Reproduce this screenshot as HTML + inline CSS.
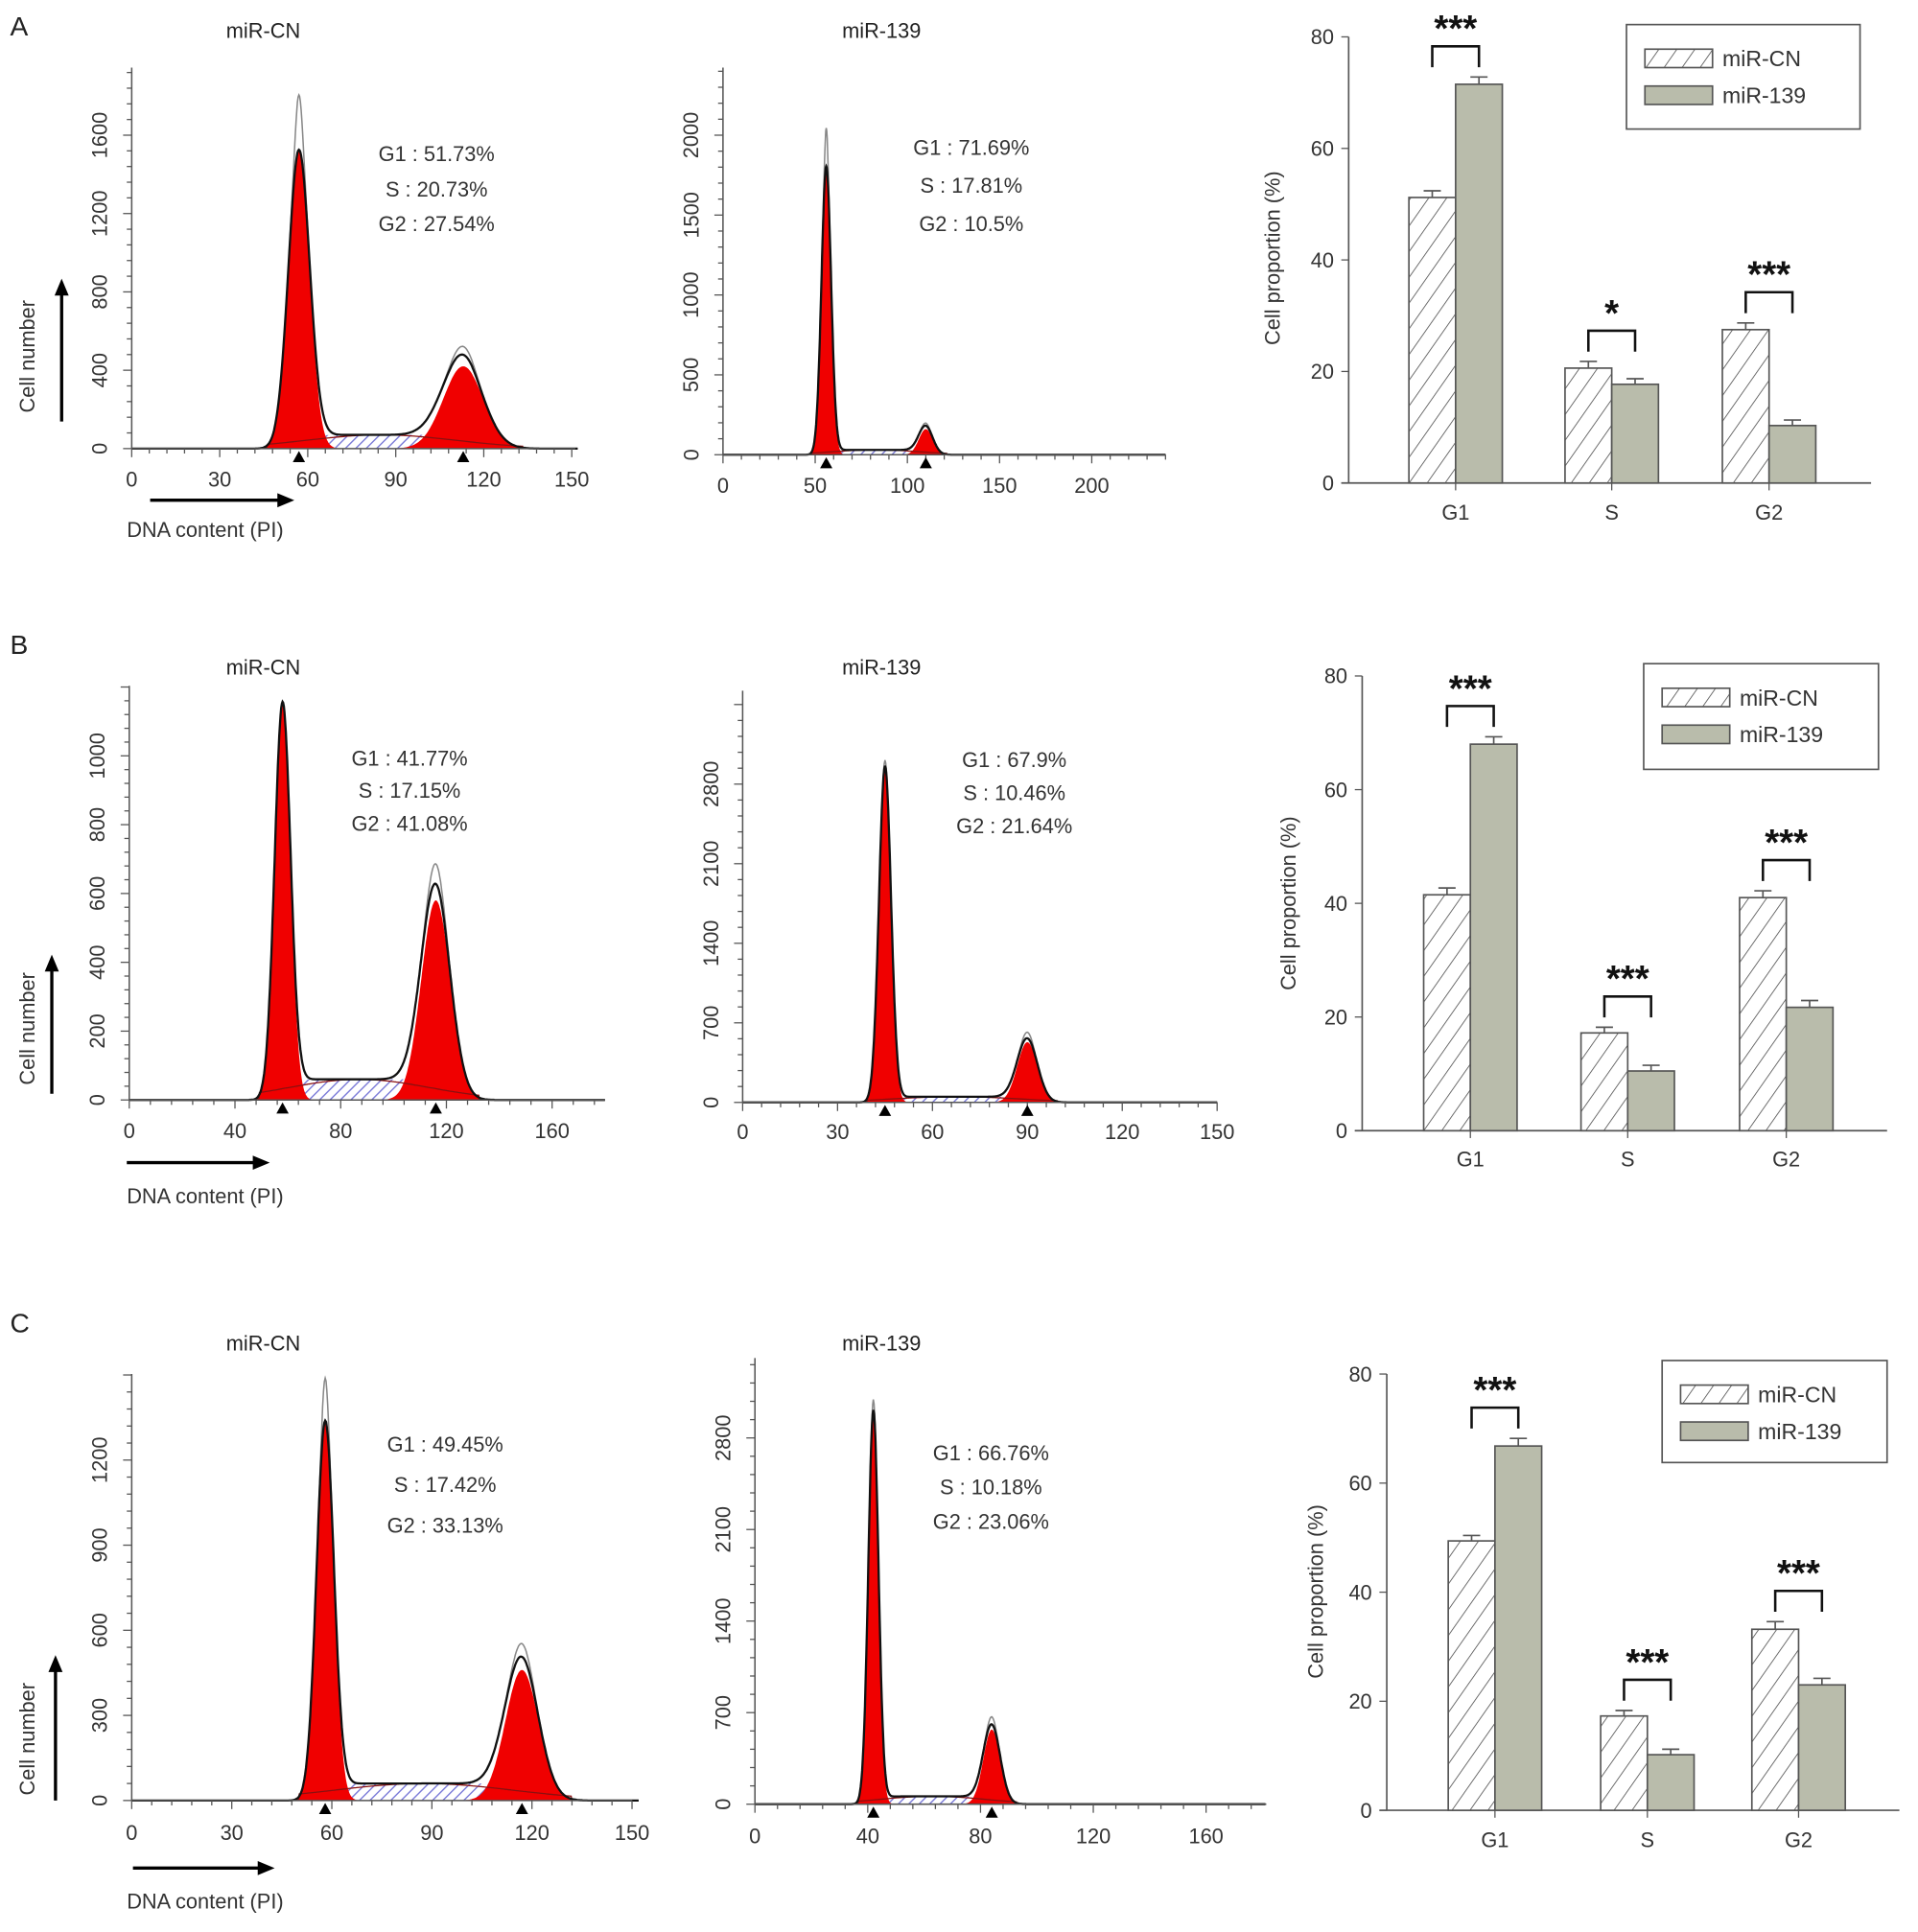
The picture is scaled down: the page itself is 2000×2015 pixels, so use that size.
<!DOCTYPE html>
<html><head><meta charset="utf-8"><style>
html,body{margin:0;padding:0;background:#fff;}
svg{display:block;font-family:"Liberation Sans",Arial,sans-serif;}
</style></head><body>
<svg id="fig" width="2000" height="2015" viewBox="0 0 1560 1572" xmlns="http://www.w3.org/2000/svg">
<defs>
<pattern id="hatchS" width="6" height="6" patternUnits="userSpaceOnUse" patternTransform="rotate(45)"><rect width="6" height="6" fill="#fff"/><line x1="0" y1="0" x2="0" y2="6" stroke="#7a7ad8" stroke-width="2.2"/></pattern>
<pattern id="hatchBar" width="12" height="12" patternUnits="userSpaceOnUse" patternTransform="rotate(35)"><rect width="12" height="12" fill="#fff"/><line x1="0" y1="0" x2="0" y2="12" stroke="#444" stroke-width="1.2"/></pattern>
</defs>
<g id="root"></g>
</svg>
<script>
// ---- histogram data (one entry per panel) ----
const histTitles = ["miR-CN","miR-139","miR-CN","miR-139","miR-CN","miR-139"];
const histG1Pos = [57, 56, 58, 45, 58, 42];
const histG1Height = [1520, 1800, 1150, 2950, 1330, 3000];
const histG1Peak = [1800, 2040, 1150, 3000, 1480, 3080];
const histG1Sigma = [3.6, 2.6, 3.0, 1.9, 2.6, 1.8];
const histG2Pos = [113, 110, 116, 90, 117, 84];
const histG2Height = [420, 160, 580, 530, 460, 570];
const histG2Sigma = [6.8, 3.8, 5.5, 3.2, 5.0, 3.0];
const histSLevel = [70, 30, 60, 50, 60, 60];
const histStats = [["G1 : 51.73%","S : 20.73%","G2 : 27.54%"],["G1 : 71.69%","S : 17.81%","G2 : 10.5%"],["G1 : 41.77%","S : 17.15%","G2 : 41.08%"],["G1 : 67.9%","S : 10.46%","G2 : 21.64%"],["G1 : 49.45%","S : 17.42%","G2 : 33.13%"],["G1 : 66.76%","S : 10.18%","G2 : 23.06%"]];
const histXTicks = [[0,30,60,90,120,150],[0,50,100,150,200],[0,40,80,120,160],[0,30,60,90,120,150],[0,30,60,90,120,150],[0,40,80,120,160]];
const histYTicks = [[0,400,800,1200,1600],[0,500,1000,1500,2000],[0,200,400,600,800,1000],[0,700,1400,2100,2800],[0,300,600,900,1200],[0,700,1400,2100,2800]];
const histXMax = [152, 240, 180, 150, 152, 181];
const histYMax = [1950, 2400, 1200, 3300, 1500, 3300];

// ---- bar chart data ----
const barGroups = ["G1","S","G2"];
const barCN = [[51.2,20.6,27.5],[41.5,17.2,41.0],[49.4,17.3,33.2]];
const bar139 = [[71.5,17.7,10.3],[68.0,10.5,21.7],[66.8,10.2,23.0]];
const barCNErr = [[1.2,1.2,1.2],[1.2,1.0,1.2],[1.0,1.0,1.4]];
const bar139Err = [[1.3,1.0,1.0],[1.3,1.0,1.2],[1.4,1.0,1.2]];
const barSig = [["***","*","***"],["***","***","***"],["***","***","***"]];
const barYTicks = [0,20,40,60,80];

// ---- layout (non-data) ----
const histLayout = [
 {x0:107,x1:465,xe:468,y0:365,yt:55,tx:214,ty:25,sx:355,sy:[125,154,182],lab:true,ly:390},
 {x0:588,x1:888,xe:948,y0:370,yt:55,tx:717,ty:25,sx:790,sy:[120,151,182],lab:false,ly:395},
 {x0:105,x1:449,xe:492,y0:895,yt:558,tx:214,ty:543,sx:333,sy:[617,643,670],lab:true,ly:920},
 {x0:604,x1:990,xe:990,y0:897,yt:562,tx:717,ty:543,sx:825,sy:[618,645,672],lab:false,ly:921},
 {x0:107,x1:514,xe:514,y0:1465,yt:1118,tx:214,ty:1093,sx:362,sy:[1175,1208,1241],lab:true,ly:1491},
 {x0:614,x1:981,xe:1030,y0:1468,yt:1105,tx:717,ty:1093,sx:806,sy:[1182,1210,1238],lab:false,ly:1494}
];
const histYTopPx=[[365,110],[370,110],[895,615],[897,638],[1465,1188],[1468,1170]];
const barLayout = [
 {ax:1097,xe:1522,y0:393,y80:30,gx:[1184,1311,1439],lg:[1323,20,190,85],yl:1035,ylc:210,ly:417},
 {ax:1108,xe:1535,y0:920,y80:550,gx:[1196,1324,1453],lg:[1337,540,191,86],yl:1048,ylc:735,ly:943},
 {ax:1128,xe:1545,y0:1473,y80:1118,gx:[1216,1340,1463],lg:[1352,1107,183,83],yl:1070,ylc:1295,ly:1497}
];
const panelLetters=[["A",20],["B",523],["C",1075]];

const NS="http://www.w3.org/2000/svg";
const root=document.getElementById('root');
function mk(tag,attrs,parent,text){const e=document.createElementNS(NS,tag);for(const k in attrs)e.setAttribute(k,attrs[k]);if(text!==undefined)e.textContent=text;(parent||root).appendChild(e);return e;}
function gauss(x,m,s,h){return h*Math.exp(-0.5*((x-m)/s)**2);}
function sig(x){return 1/(1+Math.exp(-x));}

panelLetters.forEach(p=>{
  const t=mk('text',{x:8,y:p[1]+9,'font-size':22,fill:'#222'},root,p[0]);
  
  
});

histLayout.forEach((L,i)=>{
  const g=mk('g',{});
  
  
  const xMaxTick=histXTicks[i][histXTicks[i].length-1];
  const X=v=>L.x0+(L.x1-L.x0)*v/xMaxTick;
  const yT=histYTicks[i][histYTicks[i].length-1];
  const Y=v=>histYTopPx[i][0]-(histYTopPx[i][0]-histYTopPx[i][1])*v/yT;
  const t=mk('text',{x:L.tx,y:L.ty+6,'font-size':17,'text-anchor':'middle',fill:'#222'},g,histTitles[i]);
  
  
  const m1=histG1Pos[i],s1=histG1Sigma[i],h1=histG1Height[i],m2=histG2Pos[i],s2=histG2Sigma[i],h2=histG2Height[i],sl=histSLevel[i];
  const S=x=>sl*sig((x-m1-s1)/1.5)*sig((m2+s2*0.5-x)/2);
  const step=0.25,xs=[];for(let x=0;x<=histXMax[i];x+=step)xs.push(x);
  const pth=f=>xs.map((x,k)=>(k?'L':'M')+X(x).toFixed(1)+','+Y(f(x)).toFixed(1)).join('');
  const base=`L${X(histXMax[i]).toFixed(1)},${Y(0)}L${X(0)},${Y(0)}Z`;
  const sp=mk('path',{d:pth(S)+base,fill:'url(#hatchS)',stroke:'none'},g);
  
  const p1=mk('path',{d:pth(x=>gauss(x,m1,s1,h1))+base,fill:'#f00000',stroke:'none'},g);
  
  const p2=mk('path',{d:pth(x=>gauss(x,m2,s2,h2))+base,fill:'#f00000',stroke:'none'},g);
  
  const sarc=mk('path',{d:pth(x=>sl*Math.exp(-0.5*((x-(m1+m2)/2)/((m2-m1)/2.2))**2)*(x>m1-3*s1&&x<m2+3*s2?1:0)),fill:'none',stroke:'#8a1010','stroke-width':1},g);
  
  const tot=x=>gauss(x,m1,s1,h1)+gauss(x,m2,s2,h2)+S(x);
  const raw=x=>tot(x)+gauss(x,m1,s1*0.35,histG1Peak[i]-h1)+gauss(x,m2,s2*0.5,h2*0.1);
  const gl=mk('path',{d:pth(raw),fill:'none',stroke:'#888','stroke-width':1.2},g);
  
  const bl=mk('path',{d:pth(tot),fill:'none',stroke:'#111','stroke-width':1.8},g);
  
  const ax=mk('line',{x1:L.x0,y1:L.yt,x2:L.x0,y2:L.y0,stroke:'#555','stroke-width':1.2},g);
  
  const axx=mk('line',{x1:L.x0,y1:L.y0,x2:L.xe,y2:L.y0,stroke:'#555','stroke-width':1.2},g);
  
  const xstep=(histXTicks[i][1]-histXTicks[i][0])/5;
  for(let v=0;X(v)<=L.xe+0.5;v+=xstep){const big=Math.abs(v/(xstep*5)-Math.round(v/(xstep*5)))<1e-6;mk('line',{x1:X(v),x2:X(v),y1:L.y0,y2:L.y0+(big?7:4),stroke:'#555','stroke-width':1},g);}
  const ystep=(histYTicks[i][1]-histYTicks[i][0])/5;
  for(let v=0;Y(v)>=L.yt-0.5;v+=ystep){const big=Math.abs(v/(ystep*5)-Math.round(v/(ystep*5)))<1e-6;mk('line',{x1:L.x0,x2:L.x0-(big?7:4),y1:Y(v),y2:Y(v),stroke:'#555','stroke-width':1},g);}
  histXTicks[i].forEach(v=>{const tl=mk('text',{x:X(v),y:L.ly+6,'font-size':17,'text-anchor':'middle',fill:'#333'},g,v);
    });
  histYTicks[i].forEach(v=>{const xx=L.x0-20,yy=Y(v);const tl=mk('text',{x:xx,y:yy,'font-size':17,'text-anchor':'middle',fill:'#333',transform:`rotate(-90 ${xx} ${yy})`},g,v);
    });
  [m1,m2].forEach(m=>{const tr=mk('path',{d:`M${X(m)-5},${L.y0+11}L${X(m)+5},${L.y0+11}L${X(m)},${L.y0+2}Z`,fill:'#000'},g);
    });
  histStats[i].forEach((s,k)=>{const st=mk('text',{x:L.sx,y:L.sy[k]+6,'font-size':17,'text-anchor':'middle',fill:'#333'},g,s);
    });
  if(L.lab){
    const r=Math.floor(i/2);
    const cfg=[{ax:50,ay1:343,ay2:228,cx:22,cy:290,hx1:122,hx2:238,hy:407,dy:431},{ax:42,ay1:890,ay2:778,cx:22,cy:837,hx1:103,hx2:218,hy:946,dy:973},{ax:45,ay1:1465,ay2:1348,cx:22,cy:1415,hx1:108,hx2:222,hy:1520,dy:1547}][r];
    const a1=mk('path',{d:`M${cfg.ax},${cfg.ay1}L${cfg.ax},${cfg.ay2+8}`,stroke:'#000','stroke-width':2.6},g);
    
    mk('path',{d:`M${cfg.ax-5},${cfg.ay2+12}L${cfg.ax},${cfg.ay2}L${cfg.ax+5},${cfg.ay2+12}Z`,fill:'#000',stroke:'#000','stroke-width':1},g);
    const cl=mk('text',{x:cfg.cx,y:cfg.cy,'font-size':17,'text-anchor':'middle',fill:'#333',transform:`rotate(-90 ${cfg.cx} ${cfg.cy})`,dy:6},g,'Cell number');
    
    const a2=mk('path',{d:`M${cfg.hx1},${cfg.hy}L${cfg.hx2-8},${cfg.hy}`,stroke:'#000','stroke-width':2.6},g);
    
    mk('path',{d:`M${cfg.hx2-12},${cfg.hy-5}L${cfg.hx2},${cfg.hy}L${cfg.hx2-12},${cfg.hy+5}Z`,fill:'#000',stroke:'#000','stroke-width':1},g);
    const dl=mk('text',{x:103,y:cfg.dy+6,'font-size':17,fill:'#333'},g,'DNA content (PI)');
    
  }
});

barLayout.forEach((L,r)=>{
  const g=mk('g',{});
  
  
  const Y=v=>L.y0-(L.y0-L.y80)*v/80;
  const bw=38;
  const ya=mk('line',{x1:L.ax,y1:L.y80,x2:L.ax,y2:L.y0,stroke:'#555','stroke-width':1.3},g);
  
  const xa=mk('line',{x1:L.ax-6,y1:L.y0,x2:L.xe,y2:L.y0,stroke:'#555','stroke-width':1.3},g);
  
  barYTicks.forEach(v=>{mk('line',{x1:L.ax-6,x2:L.ax,y1:Y(v),y2:Y(v),stroke:'#555'},g);
    const tl=mk('text',{x:L.ax-12,y:Y(v)+6,'font-size':17,'text-anchor':'end',fill:'#333'},g,v);
    });
  const yt=mk('text',{x:L.yl,y:L.ylc,'font-size':17,'text-anchor':'middle',fill:'#333',transform:`rotate(-90 ${L.yl} ${L.ylc})`,dy:6},g,'Cell proportion (%)');
  
  barGroups.forEach((gn,k)=>{
    const cx=L.gx[k];
    mk('line',{x1:cx,x2:cx,y1:L.y0,y2:L.y0+6,stroke:'#555'},g);
    const gl=mk('text',{x:cx,y:L.ly+6,'font-size':17,'text-anchor':'middle',fill:'#333'},g,gn);
    
    const v1=barCN[r][k],v2=bar139[r][k],e1=barCNErr[r][k],e2=bar139Err[r][k];
    const b1=mk('rect',{x:cx-bw,y:Y(v1),width:bw,height:L.y0-Y(v1),fill:'url(#hatchBar)',stroke:'#555','stroke-width':1.3},g);
    
    const b2=mk('rect',{x:cx,y:Y(v2),width:bw,height:L.y0-Y(v2),fill:'#b9bcab',stroke:'#555','stroke-width':1.3},g);
    
    [[cx-bw/2,v1,e1],[cx+bw/2,v2,e2]].forEach(([x,v,e])=>{
      const eb=mk('path',{d:`M${x},${Y(v)}L${x},${Y(v+e)}M${x-7},${Y(v+e)}L${x+7},${Y(v+e)}`,stroke:'#555','stroke-width':1.3,fill:'none'},g);
      });
    const top=Math.min(Y(v1+e1),Y(v2+e2));
    const by=top-25;
    const br=mk('path',{d:`M${cx-bw/2},${by+17}L${cx-bw/2},${by}L${cx+bw/2},${by}L${cx+bw/2},${by+17}`,fill:'none',stroke:'#111','stroke-width':2},g);
    
    const st=mk('text',{x:cx,y:by-4,'font-size':30,'font-weight':'bold','text-anchor':'middle',fill:'#111'},g,barSig[r][k]);
    
  });
  const [lx,ly,lw,lh]=L.lg;
  const lg=mk('g',{},g);
  
  mk('rect',{x:lx,y:ly,width:lw,height:lh,fill:'#fff',stroke:'#555','stroke-width':1.3},lg);
  const e1=mk('rect',{x:lx+15,y:ly+20,width:55,height:15,fill:'url(#hatchBar)',stroke:'#555','stroke-width':1.3},lg);
  
  const t1=mk('text',{x:lx+78,y:ly+34,'font-size':18,fill:'#333'},lg,'miR-CN');
  
  const e2=mk('rect',{x:lx+15,y:ly+50,width:55,height:15,fill:'#b9bcab',stroke:'#555','stroke-width':1.3},lg);
  
  const t2=mk('text',{x:lx+78,y:ly+64,'font-size':18,fill:'#333'},lg,'miR-139');
  
});
</script>
</body></html>
